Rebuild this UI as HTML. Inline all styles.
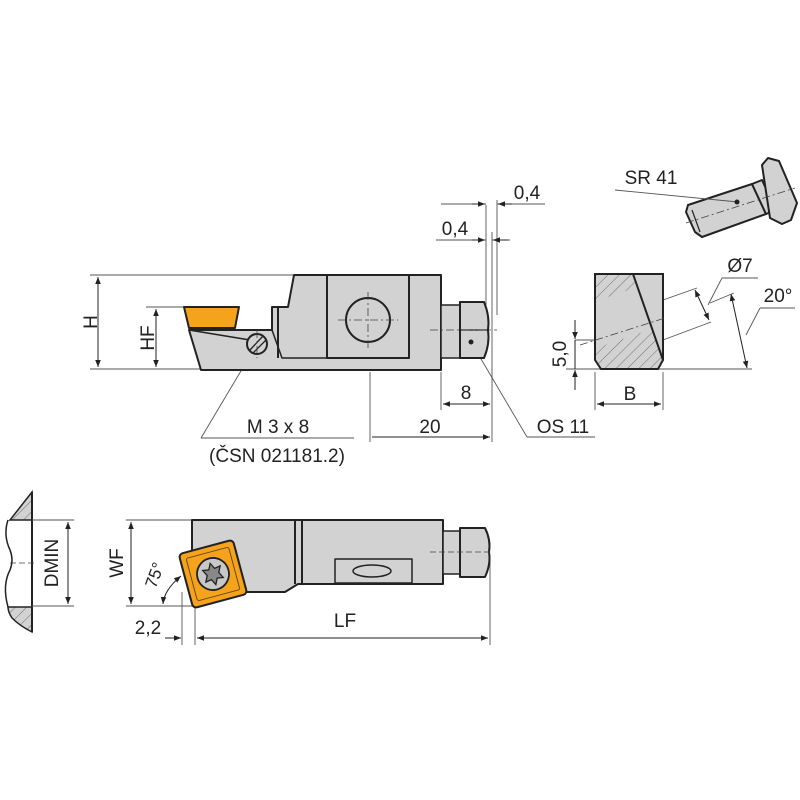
<!DOCTYPE html>
<html><head><meta charset="utf-8"><style>
html,body{margin:0;padding:0;background:#fff}
svg{display:block}
text{font-family:"Liberation Sans",sans-serif;font-size:19px;fill:#222}
</style></head><body>
<svg width="800" height="800" viewBox="0 0 800 800" xmlns="http://www.w3.org/2000/svg">
<defs>
<marker id="a" viewBox="0 0 10 10" refX="10" refY="5" markerWidth="12" markerHeight="7" markerUnits="userSpaceOnUse" orient="auto-start-reverse"><path d="M0,1 L10,5 L0,9z" fill="#222"/></marker>
<pattern id="h" width="8" height="8" patternUnits="userSpaceOnUse" patternTransform="rotate(45)"><rect width="8" height="8" fill="#d2d2d2"/><line x1="0" y1="0" x2="0" y2="8" stroke="#555" stroke-width="0.8"/></pattern>
</defs>
<g stroke="#555" stroke-width="0.9" fill="none">
<line x1="90" y1="275" x2="294" y2="275"/>
<line x1="90" y1="369" x2="200" y2="369"/>
<line x1="146" y1="307" x2="184" y2="307"/>
<line x1="486" y1="205" x2="486" y2="305"/>
<line x1="492" y1="232" x2="492" y2="442"/>
<line x1="497" y1="200" x2="497" y2="315"/>
<line x1="441" y1="372" x2="441" y2="410"/>
<line x1="370" y1="372" x2="370" y2="442"/>
<line x1="441" y1="204" x2="486" y2="204" />
<line x1="497" y1="204" x2="545" y2="204"/>
<line x1="436" y1="240" x2="486" y2="240"/>
<line x1="492" y1="240" x2="510" y2="240"/>
<line x1="471" y1="342" x2="527" y2="437"/><line x1="527" y1="437" x2="595" y2="437"/>
<line x1="257" y1="344" x2="201" y2="438"/><line x1="201" y1="438" x2="354" y2="438"/>
</g>
<g stroke="#222" stroke-width="1" fill="none">
<line x1="98" y1="277" x2="98" y2="367" marker-start="url(#a)" marker-end="url(#a)"/>
<line x1="156" y1="309" x2="156" y2="367" marker-start="url(#a)" marker-end="url(#a)"/>
<line x1="443" y1="404" x2="490" y2="404" marker-start="url(#a)" marker-end="url(#a)"/>
<line x1="372" y1="437" x2="490" y2="437" marker-end="url(#a)"/>
<line x1="472" y1="204" x2="485" y2="204" marker-end="url(#a)"/>
<line x1="512" y1="204" x2="498" y2="204" marker-end="url(#a)"/>
<line x1="472" y1="240" x2="485" y2="240" marker-end="url(#a)"/>
<line x1="508" y1="240" x2="493" y2="240" marker-end="url(#a)"/>
</g>
<g stroke="#222" stroke-width="2" stroke-linejoin="round">
<path d="M294,275 L441,275 L441,370 L201,370 L189,330 L272,330 L272,307 L288,307 Z" fill="#d2d2d2"/>
<path d="M184,307 L239,307 L235,328 L189,328 Z" fill="#f5a21c"/>
<line x1="278" y1="307" x2="278" y2="358" />
<rect x="327" y="275" width="82" height="83" fill="#d2d2d2"/>
<path d="M189,330 L250,340" fill="none" stroke-width="1.5"/>
<path d="M272,330 L282,358 L409,358" fill="none" stroke-width="1.5"/>
<circle cx="368" cy="320" r="22" fill="#d2d2d2"/>
<circle cx="257" cy="344" r="10" fill="#d2d2d2"/>
<rect x="441" y="305" width="19" height="53" fill="#d2d2d2" stroke-width="1.5"/>
<path d="M460,302 L484,302 Q490,316 488,330 Q490,344 484,358 L460,358 Z" fill="#d2d2d2"/>
<line x1="460" y1="330" x2="489" y2="330" stroke-width="1.2"/>
</g>
<g stroke="#222" stroke-width="1.3"><line x1="250" y1="350" x2="263" y2="336"/><line x1="253" y1="353" x2="266" y2="340"/></g>
<circle cx="471" cy="342" r="2.5" fill="#222"/>
<g stroke="#444" stroke-width="0.8" stroke-dasharray="8,3,2,3">
<line x1="368" y1="292" x2="368" y2="348"/><line x1="338" y1="320" x2="398" y2="320"/>
<line x1="257" y1="330" x2="257" y2="358"/><line x1="430" y1="330" x2="497" y2="330"/>
</g>
<text x="88" y="331" transform="rotate(-90 88 322)" text-anchor="middle">H</text>
<text x="146" y="346" transform="rotate(-90 146 338)" text-anchor="middle">HF</text>
<text x="466" y="399" text-anchor="middle">8</text>
<text x="430" y="433" text-anchor="middle">20</text>
<text x="527" y="199" text-anchor="middle">0,4</text>
<text x="455" y="235" text-anchor="middle">0,4</text>
<text x="563" y="433" text-anchor="middle">OS 11</text>
<text x="278" y="433" text-anchor="middle">M 3 x 8</text>
<text x="277" y="462" text-anchor="middle">(ČSN 021181.2)</text>

<g stroke="#555" stroke-width="0.9" fill="none">
<line x1="575" y1="340" x2="597" y2="340"/>
<line x1="566" y1="369" x2="752" y2="369"/>
<line x1="595" y1="372" x2="595" y2="410"/><line x1="663" y1="372" x2="663" y2="410"/>
<line x1="663" y1="300" x2="697" y2="288"/><line x1="663" y1="340" x2="711" y2="322"/>
<line x1="708" y1="305" x2="722" y2="278"/><line x1="722" y1="278" x2="758" y2="278"/>
<line x1="710" y1="303" x2="734" y2="293"/>
<line x1="746" y1="335" x2="760" y2="308"/><line x1="760" y1="308" x2="795" y2="308"/>
</g>
<path d="M595,274 L633,274 L663,360 L658,369 L601,369 L595,360 Z" fill="url(#h)"/>
<path d="M596,301 L641,286 L655,328 L596,348 Z" fill="#d2d2d2"/>
<path d="M633,274 L663,274 L663,360 Z" fill="#d2d2d2"/>
<path d="M595,274 L663,274 L663,360 L658,369 L601,369 L595,360 Z" fill="none" stroke="#222" stroke-width="2"/>
<line x1="633" y1="274" x2="663" y2="360" stroke="#222" stroke-width="2"/>
<line x1="580" y1="345" x2="665" y2="318" stroke="#444" stroke-width="0.8" stroke-dasharray="8,3,2,3"/>
<g stroke="#222" stroke-width="1" fill="none">
<line x1="597" y1="404" x2="661" y2="404" marker-start="url(#a)" marker-end="url(#a)"/>
<line x1="575" y1="320" x2="575" y2="339" marker-end="url(#a)"/>
<line x1="575" y1="390" x2="575" y2="370" marker-end="url(#a)"/>
<line x1="575" y1="340" x2="575" y2="369"/>
<line x1="695" y1="290" x2="709" y2="320" marker-start="url(#a)" marker-end="url(#a)"/>
<line x1="731" y1="294" x2="747" y2="368" marker-start="url(#a)" marker-end="url(#a)"/>
</g>
<text x="566" y="354" transform="rotate(-90 566 354)" text-anchor="middle">5,0</text>
<text x="630" y="400" text-anchor="middle">B</text>
<text x="740" y="272" text-anchor="middle">Ø7</text>
<text x="778" y="302" text-anchor="middle">20°</text>

<!-- pin SR 41 -->
<g stroke="#222" stroke-width="2" stroke-linejoin="round" fill="#d2d2d2">
<path d="M688,205 L752,184 L766,214 L702,237 L695,232 L686,212 Z"/>
<path d="M752,184 L762,180 L776,210 L766,214 Z"/>
<path d="M762,165 L768,158 L779,161 L797,203 L791,220 L782,224 L770,218 Z"/>
</g>
<line x1="692" y1="210" x2="700" y2="232" stroke="#222" stroke-width="1.2"/>
<line x1="686" y1="223" x2="795" y2="188" stroke="#444" stroke-width="0.8" stroke-dasharray="8,3,2,3"/>
<line x1="615" y1="190" x2="738" y2="202" stroke="#555" stroke-width="0.9"/>
<circle cx="737" cy="202" r="2.5" fill="#222"/>
<text x="651" y="184" text-anchor="middle">SR 41</text>

<!-- bottom left section -->
<path d="M32,492 L10,520 L32,520 Z" fill="url(#h)" stroke="#222" stroke-width="1.5"/>
<path d="M8,607 L32,607 L32,632 Q20,626 12,618 Q8,612 8,607 Z" fill="url(#h)" stroke="#222" stroke-width="1.5"/>
<path d="M32,492 L32,632" stroke="#222" stroke-width="2"/>
<path d="M8,520 Q3,535 10,550 Q14,560 10,570 Q2,585 8,607" fill="none" stroke="#222" stroke-width="1.5"/>
<line x1="10" y1="563" x2="34" y2="563" stroke="#444" stroke-width="0.8" stroke-dasharray="6,3"/>
<g stroke="#555" stroke-width="0.9"><line x1="32" y1="520" x2="74" y2="520"/><line x1="32" y1="606" x2="74" y2="606"/></g>
<line x1="68" y1="522" x2="68" y2="604" stroke="#222" marker-start="url(#a)" marker-end="url(#a)"/>
<text x="58" y="563" transform="rotate(-90 58 563)" text-anchor="middle">DMIN</text>

<!-- bottom view -->
<g stroke="#555" stroke-width="0.9">
<line x1="126" y1="520" x2="192" y2="520"/>
<line x1="126" y1="606" x2="195" y2="606"/>
<line x1="182" y1="592" x2="182" y2="645"/>
<line x1="195" y1="606" x2="195" y2="645"/>
<line x1="490" y1="556" x2="490" y2="645"/>
</g>
<g stroke="#222" stroke-width="1" fill="none">
<line x1="131" y1="522" x2="131" y2="604" marker-start="url(#a)" marker-end="url(#a)"/>
<line x1="197" y1="638" x2="488" y2="638" marker-start="url(#a)" marker-end="url(#a)"/>
<line x1="165" y1="638" x2="181" y2="638" marker-end="url(#a)"/>
<path d="M163,604 Q164,590 181,576" marker-end="url(#a)" marker-start="url(#a)"/>
</g>
<text x="123" y="563" transform="rotate(-90 123 563)" text-anchor="middle">WF</text>
<text x="160" y="577" transform="rotate(-70 160 577)" text-anchor="middle" style="font-size:17px">75°</text>
<text x="148" y="634" text-anchor="middle">2,2</text>
<text x="345" y="627" text-anchor="middle">LF</text>
<g stroke="#222" stroke-width="2" stroke-linejoin="round">
<path d="M192,520 L443,520 L443,584 L298,584 L285,592 L240,592 L192,560 Z" fill="#d2d2d2"/>
<line x1="295" y1="520" x2="295" y2="584"/><line x1="302" y1="520" x2="302" y2="584"/>
<rect x="335" y="559" width="77" height="24" fill="#d2d2d2" stroke-width="1.5"/>
<ellipse cx="372" cy="571" rx="19" ry="6" fill="#d2d2d2" stroke-width="1.5"/>
<rect x="443" y="531" width="17" height="43" fill="#d2d2d2" stroke-width="1.5"/>
<path d="M460,528 L485,528 Q491,540 489,552 Q491,564 485,577 L460,577 Z" fill="#d2d2d2"/>
</g>
<line x1="430" y1="552" x2="492" y2="552" stroke="#444" stroke-width="0.8" stroke-dasharray="6,3"/>
<g transform="translate(213,574) rotate(-15)">
<rect x="-28" y="-28" width="56" height="56" rx="4" fill="#f5a21c" stroke="#222" stroke-width="2"/>
<rect x="-22" y="-22" width="44" height="44" rx="2" fill="none" stroke="#6b4a10" stroke-width="1"/>
<circle r="16" fill="#c8c8c8" stroke="#222" stroke-width="1.8"/>
<path d="M0,-11 L3,-5 L9,-6 L6,0 L9,6 L3,5 L0,11 L-3,5 L-9,6 L-6,0 L-9,-6 L-3,-5 Z" fill="#888" stroke="#222" stroke-width="1.3"/>
</g>
</svg>
</body></html>
